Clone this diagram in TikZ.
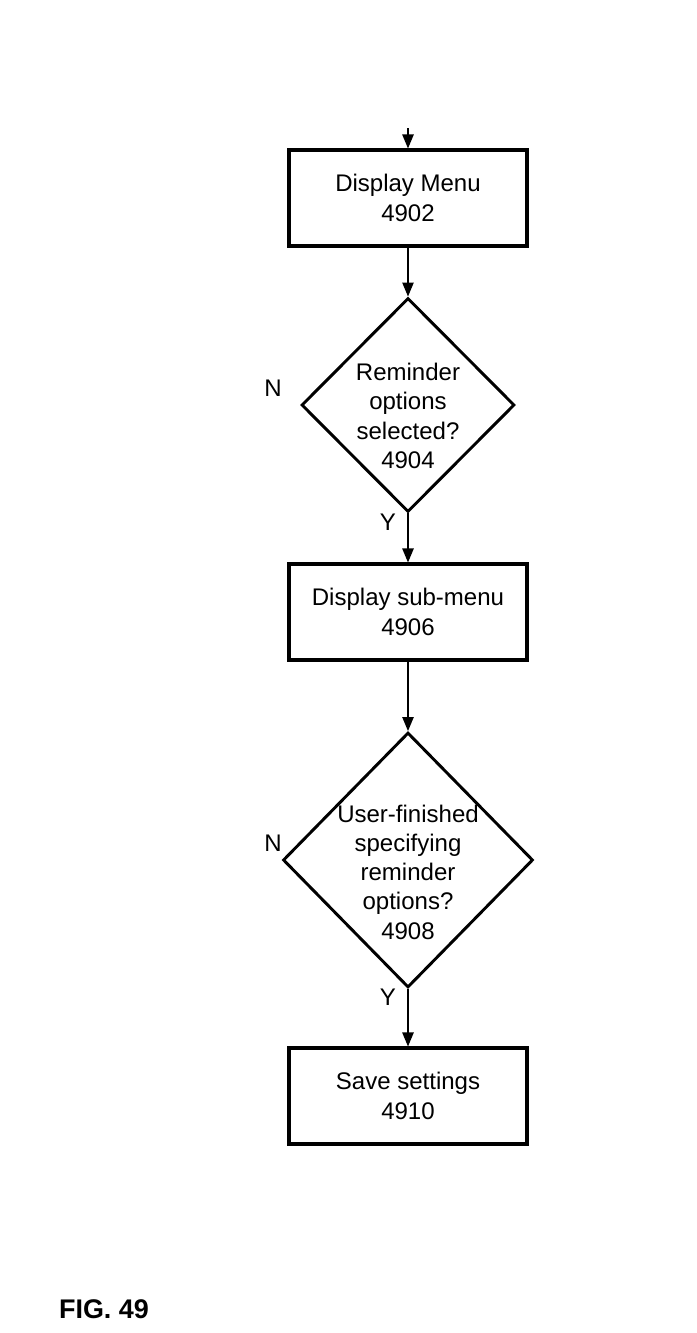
\documentclass[tikz,border=0pt]{standalone}
\usepackage{fontspec}
\setmainfont{Liberation Sans}
\usetikzlibrary{arrows.meta,shapes.geometric,positioning}

\begin{document}
\begin{tikzpicture}[x=0.3mm,y=-0.3mm,
  stepbox/.style={draw,line width=2.6pt,minimum width=71.4mm,minimum height=28.8mm,align=center,font=\fontsize{20.5}{25}\selectfont},
  decision/.style={draw,diamond,line width=2.5pt,inner sep=0pt},
  qtext/.style={align=center,font=\fontsize{20.5}{25}\selectfont},
  flow/.style={line width=1.2pt,-{Triangle[length=4.2mm,width=3.4mm]}},
  yn/.style={font=\fontsize{20.5}{24}\selectfont}]
\useasboundingbox (0,0) rectangle (697,1333);
\coordinate (start) at (408,128);
\node[stepbox] (menu) at (408,198) {Display Menu\\4902};
\node[decision,minimum width=63.9mm,minimum height=64.2mm] (remind) at (408,405) {};
\node[qtext] (remindtxt) at (408,416) {Reminder\\options\\selected?\\4904};
\node[stepbox] (submenu) at (408,612) {Display sub-menu\\4906};
\node[decision,minimum width=75mm,minimum height=76.5mm] (finished) at (408,860) {};
\node[qtext] (finishedtxt) at (408,872) {User-finished\\specifying\\reminder\\options?\\4908};
\node[stepbox] (save) at (408,1096) {Save settings\\4910};
% yes / no marks
\node[yn] (n1) at (273,388) {N};
\node[yn] (y1) at (388,522) {Y};
\node[yn] (n2) at (273,843) {N};
\node[yn] (y2) at (388,997) {Y};
% arrows
\draw[flow] (start) -- (menu);
\draw[flow] (menu) -- (remind);
\draw[flow] (remind) -- (submenu);
\draw[flow] (submenu) -- (finished);
\draw[flow] (finished) -- (save);
\node[font=\bfseries\fontsize{23}{26}\selectfont] (fig) at (104,1309) {FIG. 49};
\end{tikzpicture}
\end{document}
